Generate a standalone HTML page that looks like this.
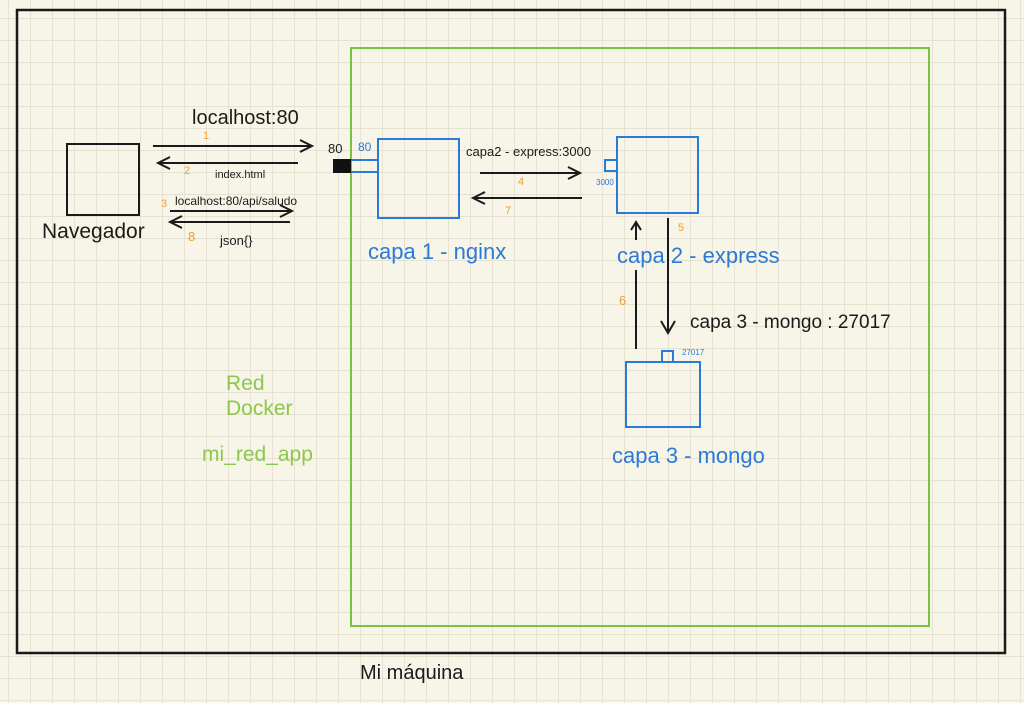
<!DOCTYPE html>
<html><head><meta charset="utf-8"><style>
html,body{margin:0;padding:0;background:#f7f4e8;}
svg{display:block}
text{font-family:"Liberation Sans",sans-serif;}
</style></head><body>
<svg width="1024" height="703" viewBox="0 0 1024 703" xmlns="http://www.w3.org/2000/svg">
<defs>
<pattern id="g" x="8" y="18" width="22" height="22" patternUnits="userSpaceOnUse">
<path d="M0 0H22M0 0V22" stroke="#e0dbca" stroke-width="1.4" fill="none"/>
</pattern>
</defs>
<rect width="1024" height="703" fill="#f7f4e8"/>
<rect width="1024" height="703" fill="url(#g)"/>
<rect x="17" y="10" width="988" height="643" fill="none" stroke="#1a1a1a" stroke-width="2.5"/>
<rect x="351" y="48" width="578" height="578" fill="none" stroke="#7cc242" stroke-width="2"/>

<g stroke="#1a1a1a" stroke-width="2" fill="none">
<rect x="67" y="144" width="72" height="71"/>
<path d="M153 146H312M300 140L312 146L300 152"/>
<path d="M298 163H158M170 157L158 163L170 169"/>
<path d="M170 211H292M280 205L292 211L280 217"/>
<path d="M290 222H170M182 216L170 222L182 228"/>
<path d="M480 173H580M568 167L580 173L568 179"/>
<path d="M582 198H473M485 192L473 198L485 204"/>
<path d="M636 349V270M636 240V222M631 230L636 222L641 230"/>
<path d="M668 218V333M661 321L668 333L675 321"/>
</g>
<rect x="333" y="159" width="18" height="14" fill="#111"/>
<g stroke="#2a7ad8" stroke-width="2" fill="none">
<path d="M351 160H378M351 172H378"/>
<rect x="378" y="139" width="81" height="79"/>
<rect x="617" y="137" width="81" height="76"/>
<rect x="605" y="160" width="12" height="11"/>
<rect x="626" y="362" width="74" height="65"/>
<rect x="662" y="351" width="11" height="11"/>
</g>

<g fill="#1a1a1a">
<text x="42" y="238" font-size="21">Navegador</text>
<text x="192" y="124" font-size="20">localhost:80</text>
<text x="215" y="178" font-size="11">index.html</text>
<text x="175" y="205" font-size="12">localhost:80/api/saludo</text>
<text x="220" y="245" font-size="13">json{}</text>
<text x="328" y="153" font-size="13">80</text>
<text x="466" y="156" font-size="13">capa2 - express:3000</text>
<text x="690" y="328" font-size="19">capa 3 - mongo : 27017</text>
<text x="360" y="679" font-size="20">Mi máquina</text>
</g>
<g fill="#f0a030" font-size="11">
<text x="203" y="139">1</text>
<text x="184" y="174">2</text>
<text x="161" y="207">3</text>
<text x="188" y="241" font-size="13">8</text>
<text x="518" y="185">4</text>
<text x="505" y="214">7</text>
<text x="678" y="231">5</text>
<text x="619" y="305" font-size="13">6</text>
</g>
<g fill="#2a7ad8">
<text x="358" y="151" font-size="12">80</text>
<text x="596" y="185" font-size="8">3000</text>
<text x="682" y="355" font-size="8">27017</text>
<text x="368" y="259" font-size="22">capa 1 - nginx</text>
<text x="617" y="263" font-size="22">capa 2 - express</text>
<text x="612" y="463" font-size="22">capa 3 - mongo</text>
</g>
<g fill="#8cc84b" font-size="21">
<text x="226" y="390">Red</text>
<text x="226" y="415">Docker</text>
<text x="202" y="461">mi_red_app</text>
</g>
</svg>
</body></html>
